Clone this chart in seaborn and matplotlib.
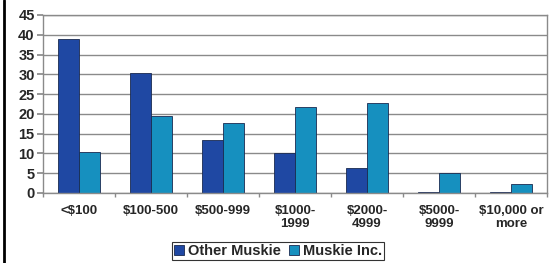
import matplotlib
matplotlib.use("Agg")
import matplotlib.pyplot as plt
import numpy as np
import pandas as pd
import seaborn as sns

categories = ["<$100", "$100-500", "$500-999", "$1000-\n1999", "$2000-\n4999", "$5000-\n9999", "$10,000 or\nmore"]
other_muskie = [39.0, 30.4, 13.5, 10.0, 6.2, 0.3, 0.3]
muskie_inc = [10.4, 19.5, 17.8, 21.8, 22.7, 5.1, 2.3]
series_names = ["Other Muskie", "Muskie Inc."]
y_ticks = [0, 5, 10, 15, 20, 25, 30, 35, 40, 45]

df = pd.DataFrame({
    "category": categories * 2,
    "value": other_muskie + muskie_inc,
    "series": [series_names[0]] * len(categories) + [series_names[1]] * len(categories),
})

sns.set_theme(style="white")
plt.rcParams["font.family"] = ["Liberation Sans", "DejaVu Sans"]
plt.rcParams["font.weight"] = "bold"

fig = plt.figure(figsize=(5.52, 2.63), dpi=100)
ax = fig.add_axes([43 / 552, 1 - 193 / 263, (547 - 43) / 552, (193 - 15) / 263])

sns.barplot(data=df, x="category", y="value", hue="series", order=categories,
            hue_order=series_names, palette=["#1F48A3", "#1690BF"], saturation=1,
            width=0.58, gap=0, edgecolor="#1a2a50", linewidth=0.6, ax=ax, legend=True)

ax.set_ylim(0, 45)
ax.set_yticks(y_ticks)
ax.set_xlim(-0.5, len(categories) - 0.5)
ax.yaxis.grid(True, color="#8a8a8a", linewidth=1)
ax.set_axisbelow(True)
ax.set_xlabel("")
ax.set_ylabel("")
for side in ["top", "right", "left", "bottom"]:
    ax.spines[side].set_color("#8a8a8a")
    ax.spines[side].set_linewidth(1)

ax.tick_params(axis="y", labelsize=10.5, length=4, color="#8a8a8a", pad=2, left=True)
ax.tick_params(axis="x", labelsize=9.5, length=0, pad=9)
ax.set_xticks(np.arange(len(categories) + 1) - 0.5, minor=True)
ax.tick_params(axis="x", which="minor", length=3, color="#8a8a8a", bottom=True)
for lbl in ax.get_xticklabels() + ax.get_yticklabels():
    lbl.set_fontweight("bold")
for lbl in ax.get_xticklabels():
    lbl.set_linespacing(1.1)

ax.legend(loc="center", bbox_to_anchor=(278 / 552, 1 - 251 / 263), bbox_transform=fig.transFigure,
          ncol=2, frameon=True, fancybox=False, edgecolor="black", handlelength=0.7,
          handleheight=0.7, handletextpad=0.3, columnspacing=0.5, borderpad=0.15,
          prop={"weight": "bold", "size": 10.5})
ax.get_legend().get_frame().set_linewidth(0.8)

fig.add_artist(plt.Line2D([4 / 552, 4 / 552], [0, 1], color="black", linewidth=2))

fig.savefig("out.png", dpi=100)
